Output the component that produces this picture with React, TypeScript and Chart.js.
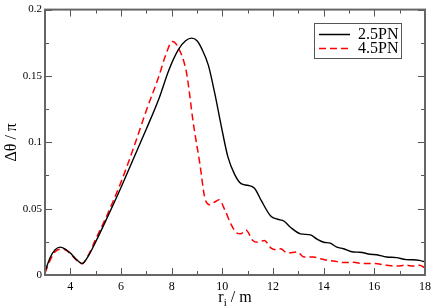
import React, { useEffect, useRef } from "react";
import { Chart, registerables } from "chart.js";

Chart.register(...registerables);

const pn25X = [3, 3.2, 3.4, 3.6, 3.8, 4.0, 4.2, 4.46, 4.7, 5.0, 5.4, 6.0, 6.5, 7.0, 7.5, 7.88, 8.27, 8.55, 8.79, 9.0, 9.2, 9.45, 9.7, 9.96, 10.22, 10.48, 10.74, 11.0, 11.27, 11.55, 11.91, 12.18, 12.44, 12.7, 13.09, 13.48, 13.74, 14.0, 14.26, 14.52, 14.78, 15.17, 15.43, 15.83, 16.09, 16.48, 16.87, 17.26, 17.52, 17.78, 18];
const pn25Y = [0.0025, 0.013, 0.019, 0.021, 0.0195, 0.0165, 0.0125, 0.0087, 0.014, 0.025, 0.041, 0.066, 0.088, 0.110, 0.133, 0.154, 0.170, 0.1765, 0.1785, 0.1765, 0.170, 0.158, 0.137, 0.112, 0.089, 0.076, 0.0688, 0.0676, 0.0654, 0.0556, 0.0444, 0.042, 0.0405, 0.0358, 0.031, 0.0302, 0.027, 0.0247, 0.024, 0.021, 0.0198, 0.0173, 0.0172, 0.0156, 0.0153, 0.0136, 0.0131, 0.0116, 0.0115, 0.011, 0.0098];

const pn45X = [3, 3.2, 3.4, 3.6, 3.8, 4.0, 4.2, 4.46, 4.7, 5.0, 5.4, 6.0, 6.5, 7.0, 7.5, 7.75, 8.03, 8.27, 8.59, 8.85, 9.12, 9.31, 9.51, 9.7, 9.87, 10.1, 10.35, 10.55, 10.72, 10.94, 11.2, 11.4, 11.66, 11.91, 12.11, 12.3, 12.57, 12.96, 13.22, 13.6, 13.87, 14.13, 14.39, 14.78, 15.17, 15.57, 16.02, 16.48, 16.87, 17.26, 17.52, 17.78, 18];
const pn45Y = [0.0015, 0.011, 0.0175, 0.0195, 0.019, 0.016, 0.012, 0.0085, 0.0145, 0.027, 0.043, 0.070, 0.096, 0.124, 0.150, 0.165, 0.176, 0.171, 0.152, 0.115, 0.083, 0.058, 0.053, 0.055, 0.0568, 0.049, 0.038, 0.032, 0.031, 0.0338, 0.026, 0.0247, 0.026, 0.0205, 0.019, 0.0197, 0.0165, 0.0173, 0.0136, 0.0136, 0.0123, 0.0112, 0.0106, 0.0094, 0.0096, 0.0086, 0.0086, 0.0074, 0.0067, 0.0074, 0.0067, 0.0074, 0.0054];

const seriesLabels = ["2.5PN", "4.5PN"];
const xTickLabels = [4, 6, 8, 10, 12, 14, 16, 18];
const yTickLabels = ["0", "0.05", "0.1", "0.15", "0.2"];
const xTitleMain = "r";
const xTitleSub = "i";
const xTitleRest = " / m";
const yTitle = "Δθ / π";

const SERIF = "'Liberation Serif', 'DejaVu Serif', serif";

const framePlugin = {
  id: "framePlugin",
  afterDatasetsDraw(chart: any) {
    const { ctx, chartArea, scales } = chart;
    const { left, right, top, bottom } = chartArea;
    const xs = scales.x;
    const ys = scales.y;
    ctx.save();
    ctx.strokeStyle = "#555";
    ctx.lineWidth = 1;
    ctx.beginPath();
    for (let v = 3; v <= 18; v++) {
      const px = Math.round(xs.getPixelForValue(v)) + 0.5;
      const len = v % 2 === 0 ? 7 : 4;
      ctx.moveTo(px, bottom);
      ctx.lineTo(px, bottom - len);
      ctx.moveTo(px, top);
      ctx.lineTo(px, top + len);
    }
    for (let i = 0; i <= 8; i++) {
      const v = i * 0.025;
      const py = Math.round(ys.getPixelForValue(v)) + 0.5;
      const len = i % 2 === 0 ? 7 : 4;
      ctx.moveTo(left, py);
      ctx.lineTo(left + len, py);
      ctx.moveTo(right, py);
      ctx.lineTo(right - len, py);
    }
    ctx.stroke();
    ctx.lineWidth = 2;
    ctx.strokeStyle = "#666";
    ctx.strokeRect(left, top, right - left, bottom - top);

    // legend
    const lx = 314, ly = 23, lw = 87, lh = 35;
    ctx.lineWidth = 1;
    ctx.strokeStyle = "#555";
    ctx.strokeRect(lx + 0.5, ly + 0.5, lw, lh);
    const ds = chart.data.datasets;
    const rows = [34, 48];
    ds.forEach((d: any, i: number) => {
      ctx.beginPath();
      ctx.strokeStyle = d.borderColor;
      ctx.lineWidth = 1.5;
      ctx.setLineDash(d.borderDash || []);
      ctx.moveTo(319, rows[i] + 0.5);
      ctx.lineTo(350, rows[i] + 0.5);
      ctx.stroke();
      ctx.setLineDash([]);
      ctx.fillStyle = "#000";
      ctx.font = `16px ${SERIF}`;
      ctx.textAlign = "left";
      ctx.textBaseline = "middle";
      ctx.fillText(d.label, 358, rows[i] + 1);
    });

    // y title
    ctx.save();
    ctx.translate(12, (top + bottom) / 2);
    ctx.rotate(-Math.PI / 2);
    ctx.font = `16px ${SERIF}`;
    ctx.textAlign = "center";
    ctx.textBaseline = "middle";
    ctx.fillStyle = "#000";
    ctx.fillText(yTitle, 0, 0);
    ctx.restore();

    // x title
    ctx.fillStyle = "#000";
    ctx.textBaseline = "alphabetic";
    ctx.textAlign = "left";
    ctx.font = `16px ${SERIF}`;
    const w1 = ctx.measureText(xTitleMain).width;
    const w3 = ctx.measureText(xTitleRest).width;
    ctx.font = `11px ${SERIF}`;
    const w2 = ctx.measureText(xTitleSub).width;
    const total = w1 + w2 + w3;
    let sx = (left + right) / 2 - total / 2;
    const base = 301.5;
    ctx.font = `16px ${SERIF}`;
    ctx.fillText(xTitleMain, sx, base);
    sx += w1;
    ctx.font = `11px ${SERIF}`;
    ctx.fillText(xTitleSub, sx, base + 4);
    sx += w2;
    ctx.font = `16px ${SERIF}`;
    ctx.fillText(xTitleRest, sx, base);
    ctx.restore();
  },
};

export default function App() {
  const ref = useRef<HTMLCanvasElement | null>(null);
  useEffect(() => {
    if (!ref.current) return;
    const chart = new Chart(ref.current, {
      type: "line",
      data: {
        datasets: [
          {
            label: seriesLabels[0],
            data: pn25X.map((x, i) => ({ x, y: pn25Y[i] })),
            borderColor: "#000000",
            borderWidth: 1.4,
            pointRadius: 0,
            cubicInterpolationMode: "monotone",
            fill: false,
          },
          {
            label: seriesLabels[1],
            data: pn45X.map((x, i) => ({ x, y: pn45Y[i] })),
            borderColor: "#ff0000",
            borderWidth: 1.5,
            borderDash: [7, 4],
            pointRadius: 0,
            cubicInterpolationMode: "monotone",
            fill: false,
          },
        ],
      },
      options: {
        animation: false,
        responsive: false,
        devicePixelRatio: 1,
        layout: { padding: { top: 5, right: 6, left: 0, bottom: 0 } },
        plugins: { legend: { display: false }, tooltip: { enabled: false } },
        scales: {
          x: {
            type: "linear",
            min: 3,
            max: 18,
            grid: { display: false, drawTicks: false },
            border: { display: false },
            afterBuildTicks: (s: any) => {
              s.ticks = xTickLabels.map((v) => ({ value: v }));
            },
            afterFit: (s: any) => {
              s.height = 33;
            },
            ticks: {
              color: "#000",
              padding: 5,
              maxRotation: 0,
              autoSkip: false,
              font: { family: SERIF, size: 12 },
            },
          },
          y: {
            type: "linear",
            min: 0,
            max: 0.2,
            grid: { display: false, drawTicks: false },
            border: { display: false },
            afterBuildTicks: (s: any) => {
              s.ticks = yTickLabels.map((t) => ({ value: parseFloat(t) }));
            },
            afterFit: (s: any) => {
              s.width = 45;
            },
            ticks: {
              color: "#000",
              padding: 3,
              callback: (_v: any, i: number) => yTickLabels[i],
              font: { family: SERIF, size: 11 },
            },
          },
        },
      },
      plugins: [framePlugin],
    });
    return () => chart.destroy();
  }, []);
  return (
    <div style={{ position: "absolute", left: 0, top: 0, width: 436, height: 308, background: "#fff" }}>
      <canvas ref={ref} width={436} height={308} />
    </div>
  );
}
